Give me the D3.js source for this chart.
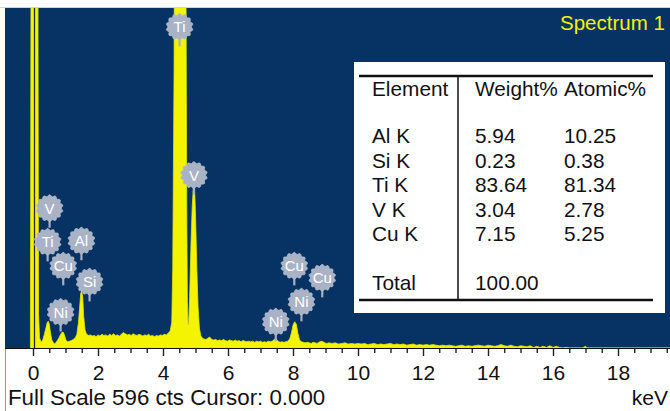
<!DOCTYPE html>
<html><head><meta charset="utf-8">
<script src="https://cdn.jsdelivr.net/npm/d3@7"></script>
<style>
html,body{margin:0;padding:0;background:#fff;}
svg{display:block;font-family:"Liberation Sans",Arial,Helvetica,sans-serif;}
</style></head>
<body><svg id="c" width="670" height="411"></svg>
<script>
// ---------- data ----------
const fullScale = 596;
const cursorKeV = 0.0;
const xTicks = [0,2,4,6,8,10,12,14,16,18];
// spectrum: [keV, counts]
const spectrum = [
[-0.08,0],[-0.06,700],[-0.03,2500],[0.12,2500],[0.15,700],[0.17,60],[0.20,18],[0.25,10],[0.30,14],[0.35,24],
[0.40,36],[0.44,45],[0.47,47],[0.50,42],[0.54,26],[0.58,14],[0.62,10],[0.66,7],[0.70,9],[0.75,13],
[0.80,18],[0.85,24],[0.90,28],[0.94,27],[0.98,20],[1.02,13],[1.07,11],[1.12,12],[1.18,13],[1.24,15],
[1.30,18],[1.35,24],[1.40,45],[1.44,75],[1.47,96],[1.50,100],[1.53,88],[1.56,55],[1.60,32],[1.64,25],
[1.70,22],[1.76,23],[1.82,21],[1.88,22],[1.94,20],[2.00,23],[2.06,21],[2.12,24],[2.18,22],[2.24,23],
[2.30,21],[2.36,24],[2.42,22],[2.48,25],[2.54,22],[2.60,23],[2.66,21],[2.72,24],[2.78,27],[2.84,25],
[2.90,23],[2.96,24],[3.02,22],[3.08,25],[3.14,23],[3.20,22],[3.26,24],[3.32,23],[3.38,21],[3.44,23],
[3.50,22],[3.56,24],[3.62,21],[3.68,22],[3.74,20],[3.80,22],[3.86,21],[3.92,23],[3.98,22],[4.04,24],
[4.10,23],[4.16,26],[4.22,30],[4.27,45],[4.30,140],[4.34,480],[4.38,1200],[4.44,2600],[4.56,2600],[4.64,1600],
[4.70,750],[4.73,250],[4.75,80],[4.77,40],[4.79,42],[4.82,90],[4.86,180],[4.90,250],[4.94,285],[4.97,282],
[5.00,235],[5.04,140],[5.08,70],[5.12,35],[5.16,22],[5.20,18],[5.25,16],[5.30,15],[5.36,16],[5.42,19],
[5.46,18],[5.50,15],[5.56,14],[5.62,15],[5.68,13],[5.74,14],[5.80,13],[5.86,15],[5.92,13],[5.98,12],
[6.04,14],[6.10,13],[6.16,12],[6.22,14],[6.28,12],[6.34,13],[6.40,11],[6.46,13],[6.52,12],[6.58,11],
[6.64,12],[6.70,11],[6.76,12],[6.82,10],[6.88,12],[6.94,11],[7.00,12],[7.06,10],[7.12,11],[7.18,10],
[7.24,12],[7.30,11],[7.36,12],[7.42,15],[7.48,16],[7.54,12],[7.60,10],[7.66,11],[7.72,10],[7.78,11],
[7.84,12],[7.90,16],[7.95,26],[8.00,40],[8.05,46],[8.10,42],[8.15,26],[8.20,14],[8.26,11],[8.32,10],
[8.38,9],[8.44,10],[8.50,9],[8.56,8],[8.62,10],[8.68,9],[8.74,8],[8.80,10],[8.86,12],[8.92,11],
[8.98,9],[9.04,8],[9.10,9],[9.2,8],[9.3,9],[9.4,7],[9.5,8],[9.6,9],[9.7,7],[9.8,8],
[9.9,7],[10.0,8],[10.1,7],[10.2,8],[10.3,6],[10.4,7],[10.5,8],[10.6,6],[10.7,7],[10.8,6],
[10.9,7],[11.0,8],[11.1,6],[11.2,7],[11.3,6],[11.4,7],[11.5,5],[11.6,6],[11.7,7],[11.8,5],
[11.9,6],[12.0,5],[12.1,6],[12.2,5],[12.3,6],[12.4,5],[12.5,4],[12.6,5],[12.7,4],[12.8,5],
[12.9,4],[13.0,3],[13.1,4],[13.2,5],[13.3,3],[13.4,4],[13.5,3],[13.6,4],[13.7,5],[13.8,4],
[13.9,3],[14.0,5],[14.1,4],[14.2,3],[14.3,4],[14.4,6],[14.5,4],[14.6,3],[14.7,5],[14.8,3],
[14.9,2],[15.0,4],[15.1,3],[15.2,2],[15.3,4],[15.4,1],[15.5,3],[15.6,1],[15.7,3],[15.8,1],
[15.9,4],[16.0,1],[16.1,3],[16.2,1],[16.3,0],[16.4,1],[16.5,0],[16.9,0],[17.0,3],[17.05,0],[20,0]
];
// peak markers
const markElem = ["Ti","V","V","Ti","Al","Cu","Si","Ni","Cu","Cu","Ni","Ni"];
const markKeV  = [4.51,4.95,0.51,0.45,1.49,0.93,1.74,0.85,8.04,8.90,8.26,7.47];
const markCts  = [563,303,245,186,188,144,116,63,144,123,81,46];
// quantification table
const tblElements = ["Al K","Si K","Ti K","V K","Cu K"];
const tblWeight   = ["5.94","0.23","83.64","3.04","7.15"];
const tblAtomic   = ["10.25","0.38","81.34","2.78","5.25"];
const tblTotal    = "100.00";
const tblHeader   = ["Element","Weight%","Atomic%"];

// ---------- layout ----------
const W=670,H=411;
const plot={l:5,t:8,r:670,b:348};
const svg=d3.select("#c");
const x=d3.scaleLinear().domain([0,18]).range([33,618]);
const y=d3.scaleLinear().domain([0,fullScale]).range([plot.b,plot.t]);

svg.append("line").attr("x1",0).attr("x2",W).attr("y1",7.5).attr("y2",7.5).attr("stroke","#c9d1dc");
svg.append("rect").attr("x",plot.l).attr("y",plot.t).attr("width",plot.r-plot.l).attr("height",plot.b-plot.t).attr("fill","#063264");
svg.append("line").attr("x1",5.5).attr("x2",5.5).attr("y1",plot.b).attr("y2",H).attr("stroke","#7f9cc4");

svg.append("defs").append("clipPath").attr("id","pc").append("rect")
  .attr("x",plot.l).attr("y",plot.t).attr("width",plot.r-plot.l).attr("height",plot.b-plot.t);
const g=svg.append("g").attr("clip-path","url(#pc)");

const area=d3.area().x(d=>x(d[0])).y0(y(0)).y1(d=>y(d[1]));
g.append("path").datum(spectrum).attr("d",area).attr("fill","#f4f400").attr("stroke","#e6e600").attr("stroke-width",0.8);

// cursor
g.append("line").attr("x1",x(cursorKeV)+1.5).attr("x2",x(cursorKeV)+1.5).attr("y1",plot.t).attr("y2",plot.b)
  .attr("stroke","#2a2a10").attr("stroke-width",1.3);

// markers
const badge=d3.lineRadial().curve(d3.curveLinearClosed)
  .angle(d=>d).radius(d=>12.6+0.9*Math.cos(d*14));
const angles=d3.range(0,Math.PI*2,Math.PI/56);
markElem.forEach((el,i)=>{
  const cx=x(markKeV[i]), cy=y(markCts[i]);
  const mg=g.append("g").attr("transform",`translate(${cx},${cy})`);
  mg.append("line").attr("x1",0).attr("x2",0).attr("y1",10).attr("y2",19.5).attr("stroke","#a7b1c3").attr("stroke-width",2.2);
  mg.append("path").attr("d",badge(angles)).attr("fill","#a9b3c5").attr("stroke","#b8c0cf").attr("stroke-width",0.8);
  mg.append("text").attr("text-anchor","middle").attr("y",5.5).attr("fill","#fff")
    .attr("font-size",15).text(el);
});

// title
svg.append("text").attr("x",560).attr("y",30).attr("fill","#f2f200").attr("font-size",20.5).text("Spectrum 1");

// table
const tg=svg.append("g");
tg.append("rect").attr("x",354).attr("y",62).attr("width",311).attr("height",251).attr("fill","#fff");
tg.append("line").attr("x1",359).attr("x2",653).attr("y1",76).attr("y2",76).attr("stroke","#111").attr("stroke-width",2.5);
tg.append("line").attr("x1",359).attr("x2",653).attr("y1",300).attr("y2",300).attr("stroke","#111").attr("stroke-width",2.5);
tg.append("line").attr("x1",458).attr("x2",458).attr("y1",76).attr("y2",300).attr("stroke","#111").attr("stroke-width",1.5);
const colX=[372,475,564];
tblHeader.forEach((h,i)=>tg.append("text").attr("x",colX[i]).attr("y",96).attr("font-size",20.8).attr("fill","#111").text(h));
const rowY=d3.scaleLinear().domain([0,4]).range([143,241]);
tblElements.forEach((e,i)=>{
  tg.append("text").attr("x",colX[0]).attr("y",rowY(i)).attr("font-size",20.8).attr("fill","#111").text(e);
  tg.append("text").attr("x",colX[1]).attr("y",rowY(i)).attr("font-size",20.8).attr("fill","#111").text(tblWeight[i]);
  tg.append("text").attr("x",colX[2]).attr("y",rowY(i)).attr("font-size",20.8).attr("fill","#111").text(tblAtomic[i]);
});
tg.append("text").attr("x",colX[0]).attr("y",290).attr("font-size",20.8).attr("fill","#111").text("Total");
tg.append("text").attr("x",colX[1]).attr("y",290).attr("font-size",20.8).attr("fill","#111").text(tblTotal);

// axis
svg.append("line").attr("x1",plot.l).attr("x2",W).attr("y1",348.5).attr("y2",348.5).attr("stroke","#111").attr("stroke-width",1.2);
const minor=d3.range(0.5,19.6,0.5).filter(v=>v%2!==0);
const ax=svg.append("g").attr("transform","translate(0,349)");
ax.append("g").call(d3.axisBottom(x).tickValues(minor).tickSize(4).tickFormat(""))
  .call(s=>s.select(".domain").remove()).call(s=>s.selectAll("line").attr("stroke","#222").attr("stroke-width",1.4));
ax.append("g").call(d3.axisBottom(x).tickValues(xTicks).tickSize(7).tickFormat(d3.format("d")))
  .call(s=>s.select(".domain").remove())
  .call(s=>s.selectAll("line").attr("stroke","#222").attr("stroke-width",1.4))
  .call(s=>s.selectAll("text").attr("y",31).attr("dy",0).attr("font-size",21).attr("fill","#111")
        .attr("font-family","Liberation Sans,Arial,sans-serif"));

svg.append("text").attr("x",8).attr("y",405).attr("font-size",22.3).attr("fill","#111").text("Full Scale 596 cts Cursor: 0.000");
svg.append("text").attr("x",668).attr("y",405).attr("text-anchor","end").attr("font-size",21).attr("fill","#111").text("keV");
</script></body></html>
